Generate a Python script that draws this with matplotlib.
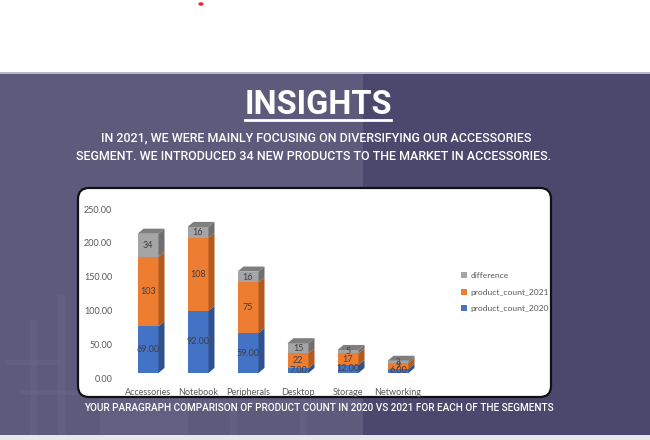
import matplotlib
matplotlib.use("Agg")
import matplotlib.pyplot as plt
from matplotlib.patches import Rectangle, Polygon, FancyBboxPatch, Patch, Circle
from matplotlib.transforms import ScaledTranslation
from matplotlib.lines import Line2D

categories = ["Accessories", "Notebook", "Peripherals", "Desktop", "Storage", "Networking"]
count_2020 = [69, 92, 59, 7, 12, 6]
count_2021 = [103, 108, 75, 22, 17, 9]
difference = [34, 16, 16, 15, 5, 3]
yticks = [0, 50, 100, 150, 200, 250]

series = [
    ("product_count_2020", count_2020, "#4472C4", "#2F528F", "#3A62A8", True),
    ("product_count_2021", count_2021, "#ED7D31", "#B35A1F", "#C9692A", False),
    ("difference", difference, "#A5A5A5", "#6F6F6F", "#7E7E7E", False),
]

W, H = 650, 440
fig = plt.figure(figsize=(6.5, 4.4), dpi=100)
fig.patch.set_facecolor("white")

def px_rect(x0, y0, x1, y1, **kw):
    r = Rectangle((x0 / W, 1 - y1 / H), (x1 - x0) / W, (y1 - y0) / H,
                  transform=fig.transFigure, **kw)
    fig.add_artist(r)
    return r

# background panel
px_rect(0, 73, 650, 435, facecolor="#4B476D", edgecolor="none", zorder=0)
px_rect(0, 73, 363, 435, facecolor="#5D5A7C", edgecolor="none", zorder=0)
px_rect(0, 72, 650, 74, facecolor="#B8B8C4", edgecolor="none", zorder=0)
px_rect(0, 435, 650, 440, facecolor="#E7E7EE", edgecolor="none", zorder=0)

# faint decorative building lines (lower left)
deco = "#6E6C8C"
for (x0, y0, x1, y1) in [(30, 320, 37, 435), (58, 295, 65, 435), (100, 330, 188, 435),
                         (20, 390, 120, 395), (5, 360, 60, 365), (200, 400, 360, 405),
                         (230, 380, 237, 435), (300, 410, 307, 435)]:
    px_rect(x0, y0, x1, y1, facecolor=deco, edgecolor="none", alpha=0.3, zorder=0.5)

# red dot
fig.add_artist(Circle((201 / W, 1 - 4 / H), 2.6 / W, transform=fig.transFigure,
                      facecolor="#E8262B", edgecolor="none"))

# Title and text
fig.text(318 / W, 1 - 105 / H, "INSIGHTS", ha="center", va="center", color="white",
         fontsize=23.5, fontweight="bold", family=["Roboto", "DejaVu Sans"])
fig.add_artist(Line2D([245 / W, 391 / W], [1 - 120 / H, 1 - 120 / H],
                      transform=fig.transFigure, color="white", lw=2))
fig.text(316 / W, 1 - 138 / H, "IN 2021, WE WERE MAINLY FOCUSING ON DIVERSIFYING OUR ACCESSORIES",
         ha="center", va="center", color="white", fontsize=9, fontweight="medium",
         family=["Roboto", "DejaVu Sans"])
fig.text(314 / W, 1 - 156 / H, "SEGMENT. WE INTRODUCED 34 NEW PRODUCTS TO THE MARKET IN ACCESSORIES.",
         ha="center", va="center", color="white", fontsize=9, fontweight="medium",
         family=["Roboto", "DejaVu Sans"])
fig.text(319 / W, 1 - 408 / H,
         "YOUR PARAGRAPH COMPARISON OF PRODUCT COUNT IN 2020 VS 2021 FOR EACH OF THE SEGMENTS",
         ha="center", va="center", color="white", fontsize=7.2, fontweight="medium",
         family=["Roboto", "DejaVu Sans"])

# chart box
box = FancyBboxPatch((0.78, (H - 397) / 100), 4.73, 2.09,
                     boxstyle="round,pad=0,rounding_size=0.11",
                     transform=fig.dpi_scale_trans, facecolor="white",
                     edgecolor="#111111", lw=1.6, zorder=1)
fig.add_artist(box)

# axes
ax = fig.add_axes([123 / W, (H - 373) / H, 300 / W, 169 / H], zorder=2)
ax.set_facecolor("none")
ax.set_xlim(-0.5, len(categories) - 0.5)
ax.set_ylim(0, 250)
for s in ax.spines.values():
    s.set_visible(False)

w = 0.42
dx = 0.12
dy = 7.5
n = len(categories)
bottoms = [0] * n
for si, (name, vals, cf, cs, ct, is_float) in enumerate(series):
    ax.bar(range(n), vals, bottom=bottoms, width=w, color=cf, edgecolor="none", zorder=3)
    for i in range(n):
        b = bottoms[i]
        t = b + vals[i]
        xr = i + w / 2
        ax.add_patch(Polygon([(xr, b), (xr + dx, b + dy), (xr + dx, t + dy), (xr, t)],
                             closed=True, facecolor=cs, edgecolor="none", zorder=3, clip_on=False))
        if si == len(series) - 1:
            xl = i - w / 2
            ax.add_patch(Polygon([(xl, t), (xl + dx, t + dy), (xr + dx, t + dy), (xr, t)],
                                 closed=True, facecolor=ct, edgecolor="none", zorder=3, clip_on=False))
        label = f"{vals[i]:.2f}" if is_float else f"{vals[i]}"
        fs = 6.5 if vals[i] >= 5 else 5.8
        ax.text(i, b + vals[i] / 2, label, ha="center", va="center", fontsize=fs,
                color="#404040", zorder=4, family=["Lato", "DejaVu Sans"])
    bottoms = [bottoms[i] + vals[i] for i in range(n)]

ax.set_xticks(range(n))
ax.set_xticklabels(categories, fontsize=6.5, color="#595959", family=["Lato", "DejaVu Sans"])
ax.set_yticks(yticks)
ax.set_yticklabels([f"{v:.2f}" for v in yticks], fontsize=6.5, color="#595959",
                   family=["Lato", "DejaVu Sans"])
ax.tick_params(axis="both", length=0)
ax.tick_params(axis="x", pad=11)
ax.tick_params(axis="y", pad=12)
off = ScaledTranslation(6 / 100, -5 / 100, fig.dpi_scale_trans)
for lab in ax.get_yticklabels():
    lab.set_transform(lab.get_transform() + off)

handles = [Patch(facecolor=s[2], edgecolor="none", label=s[0]) for s in reversed(series)]
leg = fig.legend(handles=handles, loc="center left", bbox_to_anchor=(457 / W, 1 - 292 / H),
                 frameon=False, handlelength=0.7, handleheight=0.7,
                 handletextpad=0.4, labelspacing=1.15, borderpad=0,
                 prop={"family": ["Lato", "DejaVu Sans"], "size": 6.1})
for t in leg.get_texts():
    t.set_color("#595959")
leg.set_zorder(5)

fig.savefig("out.png", dpi=100)
